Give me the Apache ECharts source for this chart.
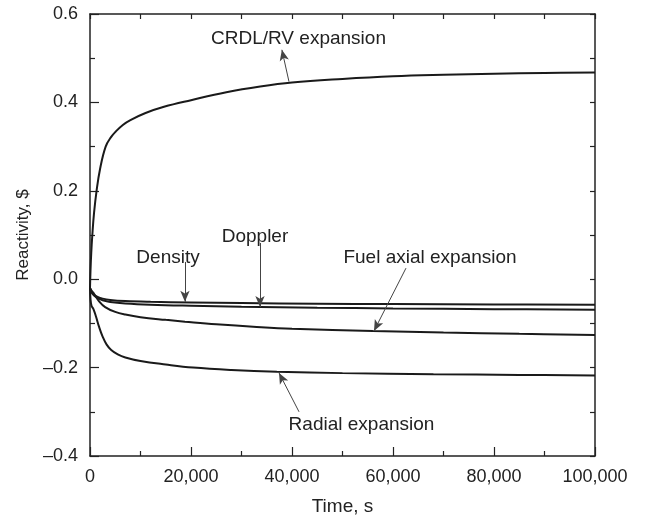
<!DOCTYPE html>
<html>
<head>
<meta charset="utf-8">
<script src="https://cdn.jsdelivr.net/npm/echarts@6/dist/echarts.min.js"></script>
<style>html,body{margin:0;padding:0;background:#fff;}#c{width:647px;height:524px;}</style>
</head>
<body>
<div id="c"></div>
<script>
// ---- data (time s, reactivity $) ----
const xTicks = [0, 20000, 40000, 60000, 80000, 100000];
const yTicks = [-0.4, -0.2, 0.0, 0.2, 0.4, 0.6];

const crdl = [[0,-0.02],[100,0.02],[250,0.06],[460,0.1],[800,0.15],[1300,0.2],[2000,0.25],[3100,0.3],[4200,0.322],[5100,0.334],[6500,0.349],[8000,0.36],[11000,0.376],[14650,0.39],[20000,0.405],[27000,0.423],[33700,0.436],[40000,0.445],[50000,0.453],[60000,0.459],[70000,0.4625],[80000,0.465],[90000,0.4665],[100000,0.4675]];
const density = [[0,-0.02],[300,-0.028],[800,-0.035],[1500,-0.04],[2500,-0.044],[4000,-0.047],[7000,-0.0495],[12000,-0.0512],[20000,-0.0527],[30000,-0.054],[45000,-0.0553],[60000,-0.0563],[80000,-0.0572],[100000,-0.058]];
const doppler = [[0,-0.02],[300,-0.03],[800,-0.037],[1500,-0.043],[2500,-0.0475],[4000,-0.0515],[7000,-0.055],[12000,-0.0578],[20000,-0.0601],[30000,-0.0622],[45000,-0.0645],[60000,-0.0662],[80000,-0.0678],[100000,-0.069]];
const fuelAxial = [[0,-0.02],[300,-0.026],[800,-0.033],[1800,-0.05],[3000,-0.063],[5000,-0.074],[7000,-0.08],[10000,-0.086],[15000,-0.092],[18800,-0.096],[25000,-0.102],[33000,-0.108],[40000,-0.112],[56000,-0.117],[70000,-0.1205],[85000,-0.1235],[100000,-0.126]];
const radial = [[0,-0.02],[100,-0.045],[300,-0.06],[700,-0.068],[1200,-0.085],[1800,-0.108],[2500,-0.13],[3300,-0.148],[4200,-0.16],[5500,-0.17],[7000,-0.177],[10000,-0.185],[15000,-0.193],[20400,-0.2],[28000,-0.2055],[37000,-0.2095],[50000,-0.2125],[68000,-0.215],[85000,-0.2165],[100000,-0.2177]];

// annotation labels [text, t, value] and arrows [from, to]
const labels = [
  ['CRDL/RV expansion', 41280, 0.543],
  ['Density', 15450, 0.048],
  ['Doppler', 32670, 0.0955],
  ['Fuel axial expansion', 67330, 0.048],
  ['Radial expansion', 53760, -0.33]
];
const arrows = [
  [[39400, 0.447], [38000, 0.519]],
  [[18800, 0.039], [18800, -0.051]],
  [[33660, 0.082], [33660, -0.063]],
  [[62570, 0.025], [56240, -0.117]],
  [[41390, -0.30], [37430, -0.212]]
];

const FONT = "'Liberation Sans', Arial, sans-serif";
const TXT = '#222';
const chart = echarts.init(document.getElementById('c'), null, {renderer: 'canvas'});

function fmtX(v) { return xTicks.indexOf(v) >= 0 ? v.toLocaleString('en-US') : ''; }
function fmtY(v) {
  const r = Math.round(v * 10) / 10;
  const hit = yTicks.find(t => Math.abs(t - r) < 1e-9);
  if (hit === undefined) return '';
  return hit.toFixed(1).replace('-', '\u2013');
}

const lineBase = {type: 'line', showSymbol: false, symbol: 'none', smooth: 0.4,
  lineStyle: {color: '#1a1a1a', width: 2}, silent: true, animation: false, z: 3};

const series = [
  Object.assign({}, lineBase, {name: 'CRDL/RV expansion', data: crdl,
    markLine: {silent: true, symbol: ['none', 'arrow'], symbolSize: [7, 11], animation: false,
      lineStyle: {color: '#444', width: 1, type: 'solid'}, label: {show: false},
      data: arrows.map(a => [{coord: a[0]}, {coord: a[1]}])},
    markPoint: {silent: true, symbol: 'circle', symbolSize: 0, animation: false,
      label: {show: true, position: 'inside', color: TXT, fontSize: 19, fontFamily: FONT, formatter: p => p.name},
      data: labels.map(l => ({name: l[0], coord: [l[1], l[2]]}))}
  }),
  Object.assign({}, lineBase, {name: 'Density', data: density}),
  Object.assign({}, lineBase, {name: 'Doppler', data: doppler}),
  Object.assign({}, lineBase, {name: 'Fuel axial expansion', data: fuelAxial}),
  Object.assign({}, lineBase, {name: 'Radial expansion', data: radial})
];

const axisLine = {show: true, onZero: false, lineStyle: {color: '#222', width: 1.5}};

chart.setOption({
  animation: false,
  backgroundColor: '#fff',
  grid: {left: 90, right: 52, top: 14, bottom: 68, containLabel: false},
  xAxis: [{
    type: 'value', min: 0, max: 100000, interval: 20000, position: 'bottom',
    name: 'Time, s', nameLocation: 'middle', nameGap: 41,
    nameTextStyle: {color: TXT, fontSize: 19, fontFamily: FONT},
    axisLine: axisLine,
    axisTick: {show: true, inside: true, length: 9, lineStyle: {color: '#222', width: 1.2}},
    minorTick: {show: true, splitNumber: 2, length: 5, lineStyle: {color: '#222', width: 1.2}},
    axisLabel: {color: TXT, fontSize: 18, fontFamily: FONT, margin: 12, formatter: fmtX},
    splitLine: {show: false}
  }, {
    type: 'value', min: 0, max: 100000, interval: 10000, position: 'top',
    axisLine: axisLine,
    axisTick: {show: true, inside: true, length: 5, lineStyle: {color: '#222', width: 1.2}},
    axisLabel: {show: false}, splitLine: {show: false}
  }],
  yAxis: [{
    type: 'value', min: -0.4, max: 0.6, interval: 0.2, position: 'left',
    name: 'Reactivity, $', nameLocation: 'middle', nameGap: 56, nameRotate: 90,
    nameTextStyle: {color: TXT, fontSize: 17, fontFamily: FONT},
    axisLine: axisLine,
    axisTick: {show: true, inside: true, length: 9, lineStyle: {color: '#222', width: 1.2}},
    minorTick: {show: true, splitNumber: 2, length: 5, lineStyle: {color: '#222', width: 1.2}},
    axisLabel: {color: TXT, fontSize: 18, fontFamily: FONT, margin: 12, formatter: fmtY},
    splitLine: {show: false}
  }, {
    type: 'value', min: -0.4, max: 0.6, interval: 0.1, position: 'right',
    axisLine: axisLine,
    axisTick: {show: true, inside: true, length: 5, lineStyle: {color: '#222', width: 1.2}},
    axisLabel: {show: false}, splitLine: {show: false}
  }],
  series: series
});
</script>
</body>
</html>
